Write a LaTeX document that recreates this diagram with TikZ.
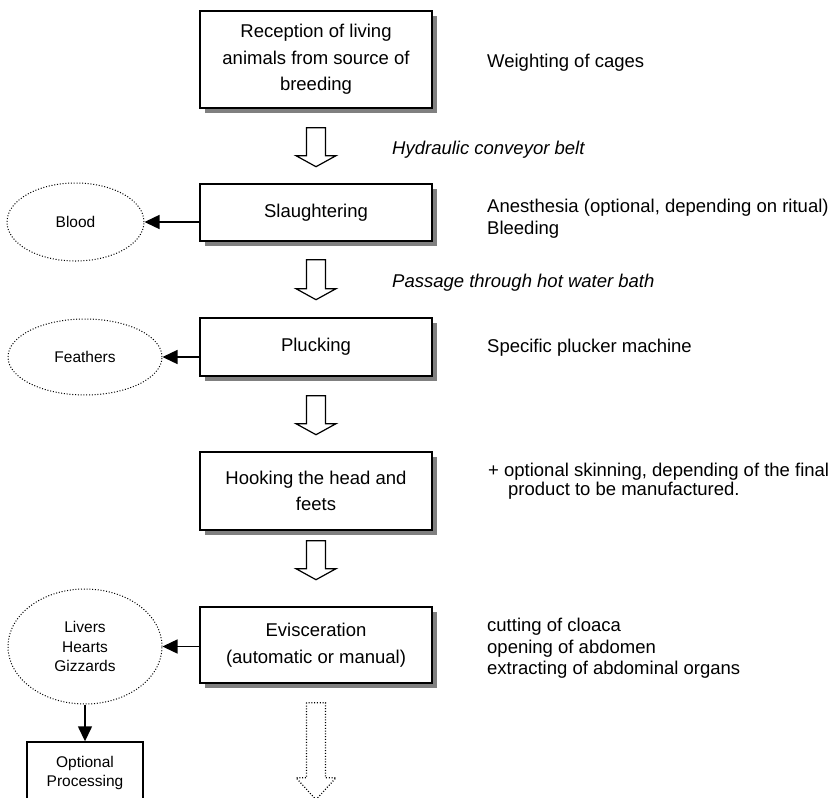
\documentclass[tikz,border=0pt]{standalone}
\usepackage{fontspec}
\setmainfont{Liberation Sans}
\usepackage{tikz}
\usetikzlibrary{shapes.geometric,arrows.meta,positioning,calc}
\definecolor{shadowgray}{RGB}{128,128,128}
\newcommand{\bodysize}{\fontsize{18.5}{22}\selectfont}
\newcommand{\smallsize}{\fontsize{15.5}{19.5}\selectfont}

\begin{document}
\begin{tikzpicture}[
        x=1pt, y=-1pt,
        font=\bodysize,
        stage/.style={draw, line width=1.4pt, fill=white, minimum width=232pt, align=center, inner sep=0pt,
            font=\fontsize{18.5}{26.5}\selectfont},
        waste/.style={draw, ellipse, line width=1pt, dash pattern=on 1pt off 1.8pt, align=center, inner sep=0pt, font=\smallsize},
        note/.style={anchor=west, align=left, inner sep=0pt},
        yields/.style={-{Triangle[length=15pt, width=14pt]}, line width=1.4pt},
        pics/flowdown/.style 2 args={code={
            \draw[line width=1.2pt, fill=white] (-9.5,0) -- (-9.5,#1-#2) -- (-20,#1-#2) -- (0,#1)
                -- (20,#1-#2) -- (9.5,#1-#2) -- (9.5,0) -- cycle;}}
    ]
        \useasboundingbox (0,0) rectangle (833,798);

        % shadows of the stages (centre y / height)
        \foreach \cy/\h in {59.5/97, 212.5/57, 347/58, 491/78, 645/76}
            \fill[shadowgray] (205,\cy-\h/2+5) rectangle (437,\cy+\h/2+5);

        % main line
        \node[stage, minimum height=97pt] (recv) at (316,59.5) {Reception of living\\animals from source of\\breeding};
        \node[stage, minimum height=57pt] (slaughter) at (316,212.5) {Slaughtering};
        \node[stage, minimum height=58pt] (pluck) at (316,347) {Plucking};
        \node[stage, minimum height=78pt] (hook) at (316,491) {Hooking the head and\\feets};
        \node[stage, minimum height=76pt] (evisc) at (316,645) {Evisceration\\(automatic or manual)};

        \pic at ($(recv.south)+(0,19)$) {flowdown={39}{11}};
        \pic at ($(slaughter.south)+(0,18)$) {flowdown={40}{11}};
        \pic at ($(pluck.south)+(0,19)$) {flowdown={39}{11}};
        \pic at ($(hook.south)+(0,10)$) {flowdown={39}{11}};
        \pic[dash pattern=on 1pt off 1.8pt] at ($(evisc.south)+(0,19)$) {flowdown={97}{22}};

        % by-products
        \node[waste, minimum width=137pt, minimum height=78pt] (blood) at (75.5,222) {Blood};
        \node[waste, minimum width=154pt, minimum height=76pt] (feathers) at (85,357) {Feathers};
        \node[waste, minimum width=154pt, minimum height=115pt] (organs) at (85,646.5) {Livers\\Hearts\\Gizzards};
        \node[draw, line width=1.4pt, minimum width=116pt, minimum height=62pt, align=center, inner sep=0pt, font=\smallsize] (optproc) at (85,773) {Optional\\Processing};

        \draw[yields] (slaughter.west |- blood.east) -- (blood.east);
        \draw[yields] (pluck.west |- feathers.east) -- (feathers.east);
        \draw[yields] (evisc.west |- organs.east) -- (organs.east);
        \draw[yields] (organs.south) -- (optproc.north);

        % remarks
        \node[note] (weigh) at (487,63) {Weighting of cages};
        \node[note] (hydraulic) at (392,150) {\itshape Hydraulic conveyor belt};
        \node[note] (anest) at (487,219) {Anesthesia (optional, depending on ritual)\\Bleeding};
        \node[note] (hotbath) at (392,283) {\itshape Passage through hot water bath};
        \node[note] (plucker) at (487,348) {Specific plucker machine};
        \node[note, font=\fontsize{18.5}{19}\selectfont] (skinning) at (488,481) {+ optional skinning, depending of the final\\\hspace*{20pt}product to be manufactured.};
        \node[note, font=\fontsize{18.5}{21.5}\selectfont] (organsteps) at (487,648.5) {cutting of cloaca\\opening of abdomen\\extracting of abdominal organs};
    \end{tikzpicture}
\end{document}
